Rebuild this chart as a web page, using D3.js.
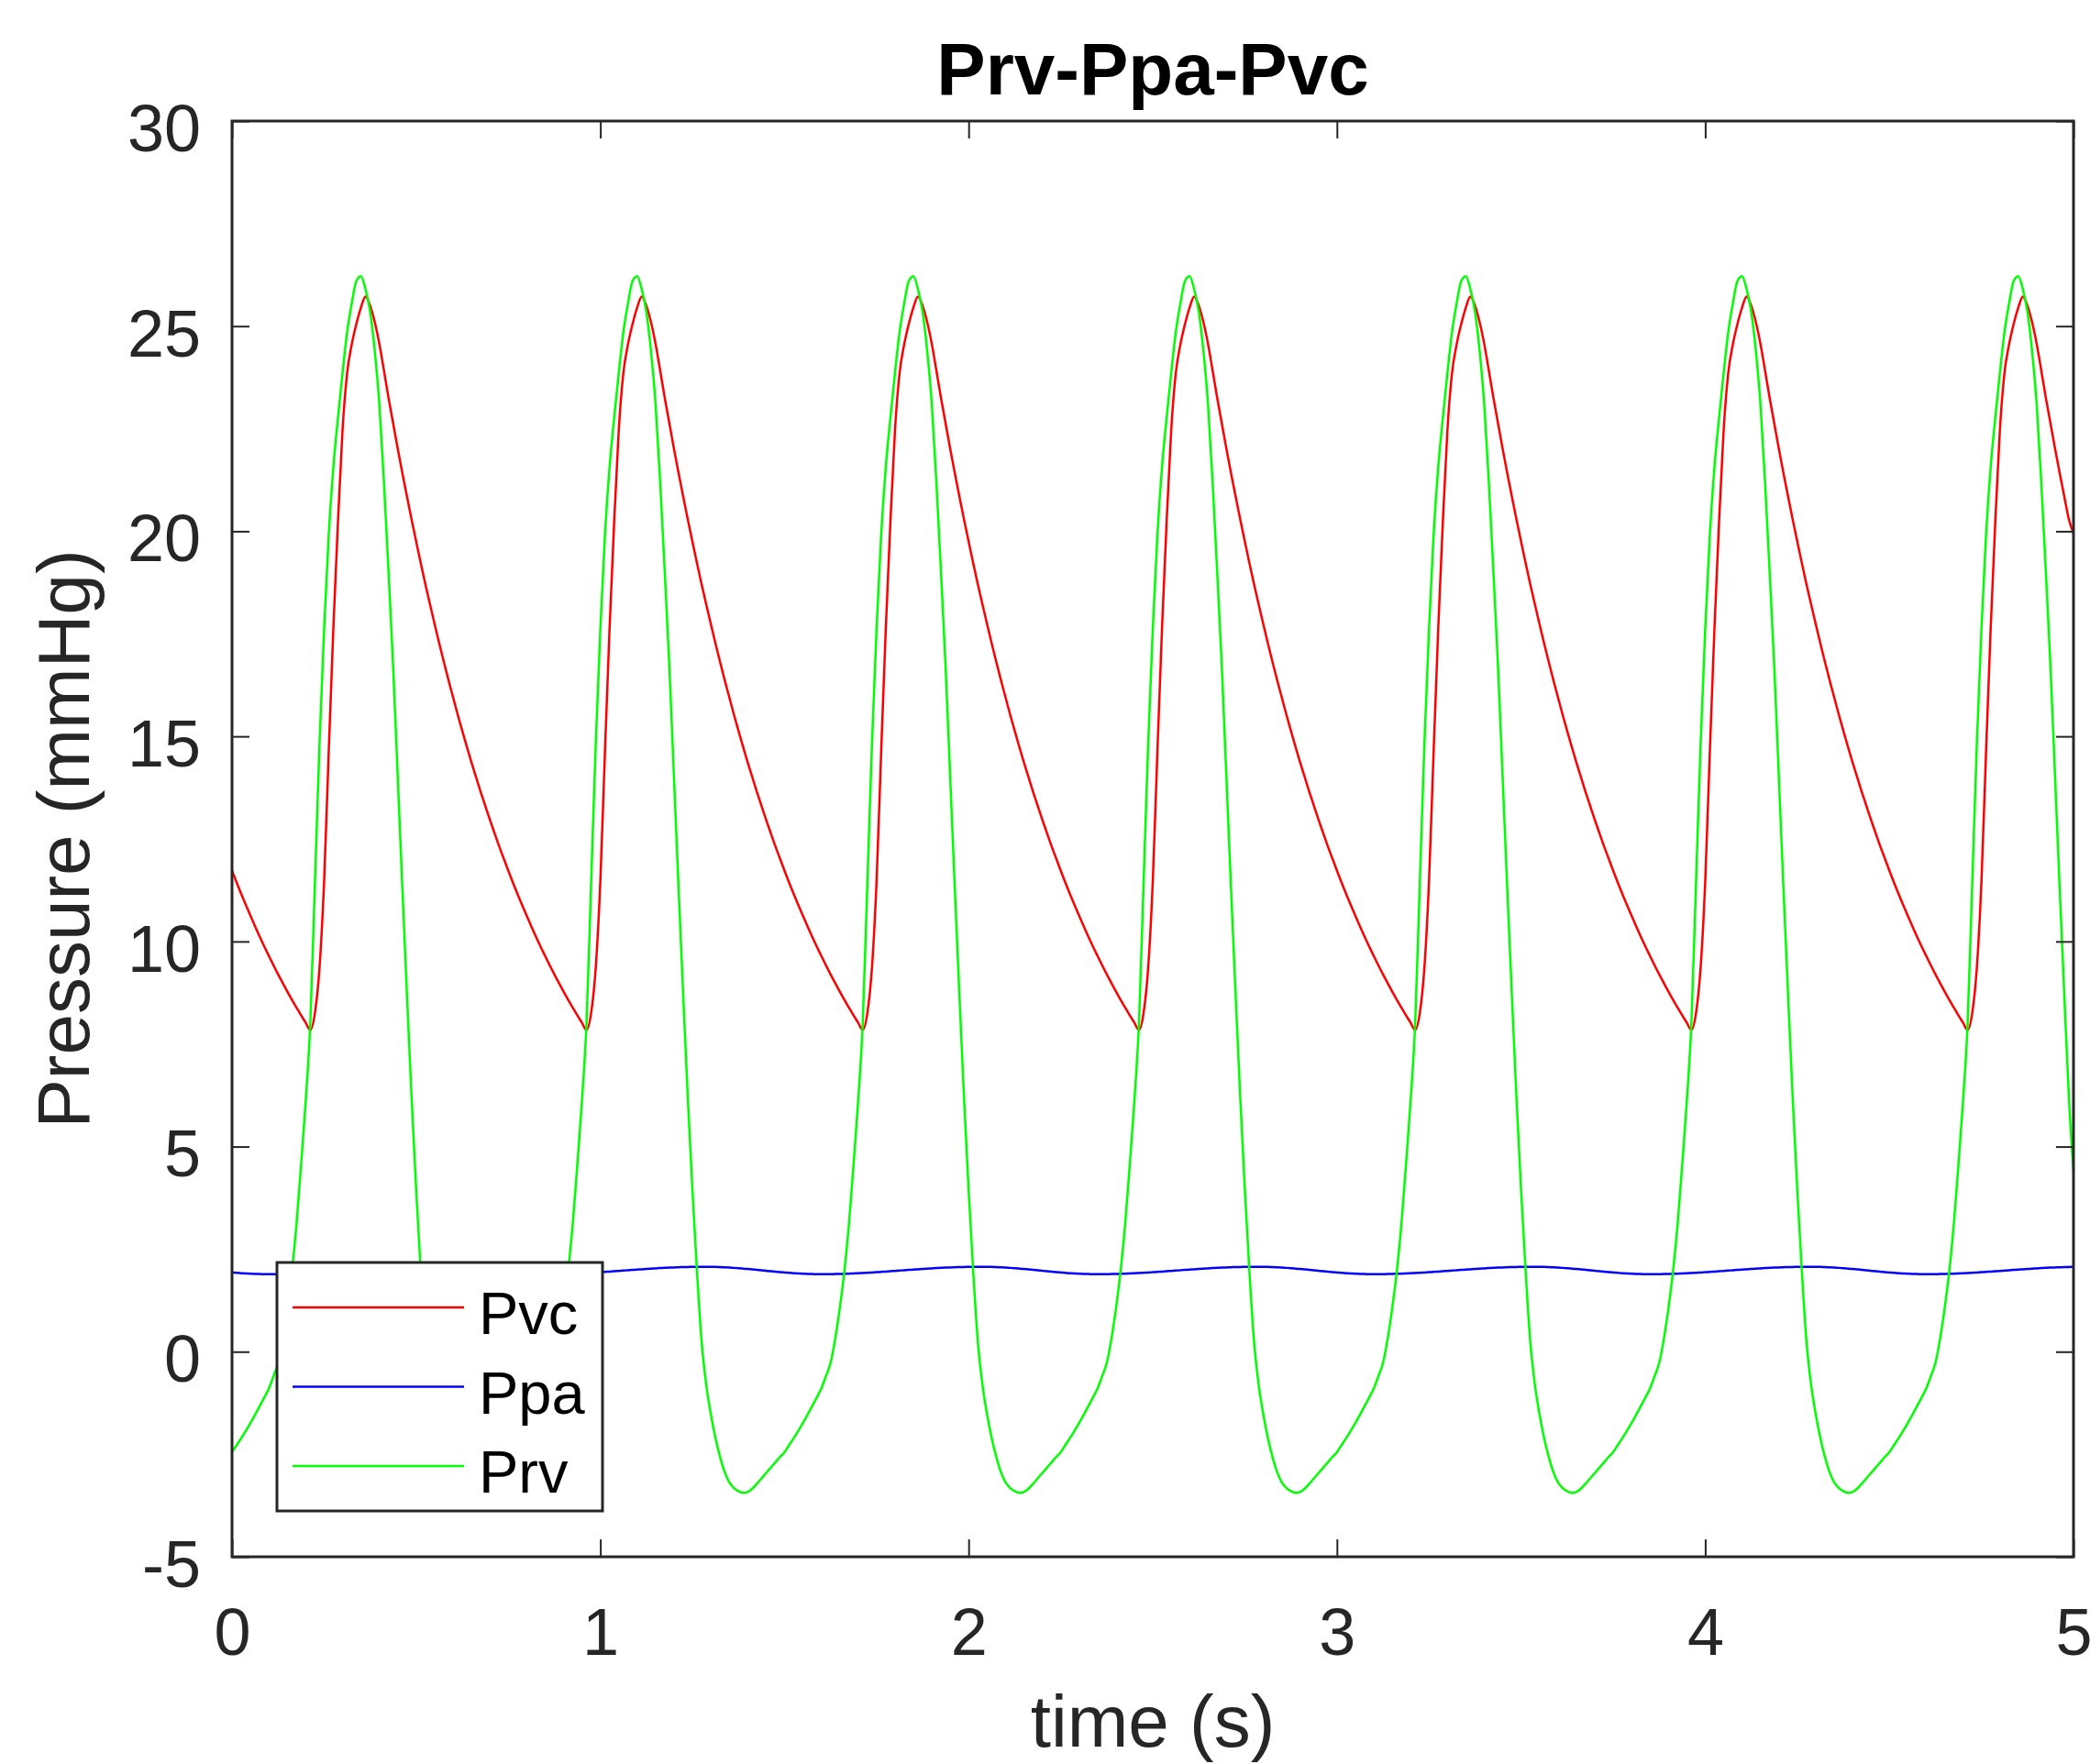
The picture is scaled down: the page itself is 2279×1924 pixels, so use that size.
<!DOCTYPE html>
<html lang="en">
<head>
    <meta charset="UTF-8">
    <title>Prv-Ppa-Pvc</title>
    <style>
        body {
            margin: 0;
            background: #ffffff;
        }
        text {
            font-family: "Liberation Sans", Arial, Helvetica, sans-serif;
        }
    </style>
</head>
<body>
    <!-- Load D3.js library from a CDN -->
    <script src="https://d3js.org/d3.v7.min.js"></script>

    <script type="text/javascript">
        // time between two samples (s), first sample at t = 0
        var sampleStep = 0.0125;

        // Pvc (mmHg), one line per heart beat of 0.75 s
        var pvc = [
            11.73,11.44,11.16,10.89,10.63,10.37,10.12,9.88,9.65,9.42,9.20,8.99,8.78,8.58,8.39,8.20,8.02,7.84,8.25,9.35,11.45,14.60,17.60,20.20,22.45,23.85,24.55,25.05,25.45,25.72,25.50,25.10,24.57,23.92,23.25,22.63,22.01,21.42,20.85,20.29,19.75,19.22,18.71,18.22,17.74,17.27,16.82,16.38,15.96,15.54,15.14,14.75,14.37,14.01,13.65,13.31,12.97,12.65,12.33,12.03,
            11.73,11.44,11.16,10.89,10.63,10.37,10.12,9.88,9.65,9.42,9.20,8.99,8.78,8.58,8.39,8.20,8.02,7.84,8.25,9.35,11.45,14.60,17.60,20.20,22.45,23.85,24.55,25.05,25.45,25.72,25.50,25.10,24.57,23.92,23.25,22.63,22.01,21.42,20.85,20.29,19.75,19.22,18.71,18.22,17.74,17.27,16.82,16.38,15.96,15.54,15.14,14.75,14.37,14.01,13.65,13.31,12.97,12.65,12.33,12.03,
            11.73,11.44,11.16,10.89,10.63,10.37,10.12,9.88,9.65,9.42,9.20,8.99,8.78,8.58,8.39,8.20,8.02,7.84,8.25,9.35,11.45,14.60,17.60,20.20,22.45,23.85,24.55,25.05,25.45,25.72,25.50,25.10,24.57,23.92,23.25,22.63,22.01,21.42,20.85,20.29,19.75,19.22,18.71,18.22,17.74,17.27,16.82,16.38,15.96,15.54,15.14,14.75,14.37,14.01,13.65,13.31,12.97,12.65,12.33,12.03,
            11.73,11.44,11.16,10.89,10.63,10.37,10.12,9.88,9.65,9.42,9.20,8.99,8.78,8.58,8.39,8.20,8.02,7.84,8.25,9.35,11.45,14.60,17.60,20.20,22.45,23.85,24.55,25.05,25.45,25.72,25.50,25.10,24.57,23.92,23.25,22.63,22.01,21.42,20.85,20.29,19.75,19.22,18.71,18.22,17.74,17.27,16.82,16.38,15.96,15.54,15.14,14.75,14.37,14.01,13.65,13.31,12.97,12.65,12.33,12.03,
            11.73,11.44,11.16,10.89,10.63,10.37,10.12,9.88,9.65,9.42,9.20,8.99,8.78,8.58,8.39,8.20,8.02,7.84,8.25,9.35,11.45,14.60,17.60,20.20,22.45,23.85,24.55,25.05,25.45,25.72,25.50,25.10,24.57,23.92,23.25,22.63,22.01,21.42,20.85,20.29,19.75,19.22,18.71,18.22,17.74,17.27,16.82,16.38,15.96,15.54,15.14,14.75,14.37,14.01,13.65,13.31,12.97,12.65,12.33,12.03,
            11.73,11.44,11.16,10.89,10.63,10.37,10.12,9.88,9.65,9.42,9.20,8.99,8.78,8.58,8.39,8.20,8.02,7.84,8.25,9.35,11.45,14.60,17.60,20.20,22.45,23.85,24.55,25.05,25.45,25.72,25.50,25.10,24.57,23.92,23.25,22.63,22.01,21.42,20.85,20.29,19.75,19.22,18.71,18.22,17.74,17.27,16.82,16.38,15.96,15.54,15.14,14.75,14.37,14.01,13.65,13.31,12.97,12.65,12.33,12.03,
            11.73,11.44,11.16,10.89,10.63,10.37,10.12,9.88,9.65,9.42,9.20,8.99,8.78,8.58,8.39,8.20,8.02,7.84,8.25,9.35,11.45,14.60,17.60,20.20,22.45,23.85,24.55,25.05,25.45,25.72,25.50,25.10,24.57,23.92,23.25,22.63,22.01,21.42,20.85,20.29,19.95
        ];

        // Ppa (mmHg)
        var ppa = [
            1.931,1.922,1.914,1.907,1.901,1.896,1.893,1.891,1.890,1.890,1.891,1.893,1.896,1.899,1.903,1.908,1.913,1.918,1.924,1.931,1.938,1.946,1.953,1.961,1.969,1.977,1.986,1.994,2.002,2.009,2.017,2.024,2.031,2.038,2.044,2.049,2.054,2.058,2.062,2.065,2.067,2.069,2.070,2.070,2.069,2.066,2.062,2.057,2.051,2.043,2.035,2.026,2.016,2.006,1.995,1.984,1.972,1.961,1.951,1.940,
            1.931,1.922,1.914,1.907,1.901,1.896,1.893,1.891,1.890,1.890,1.891,1.893,1.896,1.899,1.903,1.908,1.913,1.918,1.924,1.931,1.938,1.946,1.953,1.961,1.969,1.977,1.986,1.994,2.002,2.009,2.017,2.024,2.031,2.038,2.044,2.049,2.054,2.058,2.062,2.065,2.067,2.069,2.070,2.070,2.069,2.066,2.062,2.057,2.051,2.043,2.035,2.026,2.016,2.006,1.995,1.984,1.972,1.961,1.951,1.940,
            1.931,1.922,1.914,1.907,1.901,1.896,1.893,1.891,1.890,1.890,1.891,1.893,1.896,1.899,1.903,1.908,1.913,1.918,1.924,1.931,1.938,1.946,1.953,1.961,1.969,1.977,1.986,1.994,2.002,2.009,2.017,2.024,2.031,2.038,2.044,2.049,2.054,2.058,2.062,2.065,2.067,2.069,2.070,2.070,2.069,2.066,2.062,2.057,2.051,2.043,2.035,2.026,2.016,2.006,1.995,1.984,1.972,1.961,1.951,1.940,
            1.931,1.922,1.914,1.907,1.901,1.896,1.893,1.891,1.890,1.890,1.891,1.893,1.896,1.899,1.903,1.908,1.913,1.918,1.924,1.931,1.938,1.946,1.953,1.961,1.969,1.977,1.986,1.994,2.002,2.009,2.017,2.024,2.031,2.038,2.044,2.049,2.054,2.058,2.062,2.065,2.067,2.069,2.070,2.070,2.069,2.066,2.062,2.057,2.051,2.043,2.035,2.026,2.016,2.006,1.995,1.984,1.972,1.961,1.951,1.940,
            1.931,1.922,1.914,1.907,1.901,1.896,1.893,1.891,1.890,1.890,1.891,1.893,1.896,1.899,1.903,1.908,1.913,1.918,1.924,1.931,1.938,1.946,1.953,1.961,1.969,1.977,1.986,1.994,2.002,2.009,2.017,2.024,2.031,2.038,2.044,2.049,2.054,2.058,2.062,2.065,2.067,2.069,2.070,2.070,2.069,2.066,2.062,2.057,2.051,2.043,2.035,2.026,2.016,2.006,1.995,1.984,1.972,1.961,1.951,1.940,
            1.931,1.922,1.914,1.907,1.901,1.896,1.893,1.891,1.890,1.890,1.891,1.893,1.896,1.899,1.903,1.908,1.913,1.918,1.924,1.931,1.938,1.946,1.953,1.961,1.969,1.977,1.986,1.994,2.002,2.009,2.017,2.024,2.031,2.038,2.044,2.049,2.054,2.058,2.062,2.065,2.067,2.069,2.070,2.070,2.069,2.066,2.062,2.057,2.051,2.043,2.035,2.026,2.016,2.006,1.995,1.984,1.972,1.961,1.951,1.940,
            1.931,1.922,1.914,1.907,1.901,1.896,1.893,1.891,1.890,1.890,1.891,1.893,1.896,1.899,1.903,1.908,1.913,1.918,1.924,1.931,1.938,1.946,1.953,1.961,1.969,1.977,1.986,1.994,2.002,2.009,2.017,2.024,2.031,2.038,2.044,2.049,2.054,2.058,2.062,2.065,2.067
        ];

        // Prv (mmHg)
        var prv = [
            -2.45,-2.28,-2.11,-1.93,-1.74,-1.54,-1.33,-1.12,-0.90,-0.60,-0.28,0.30,1.05,1.95,3.10,4.55,6.10,8.00,11.40,14.80,17.60,19.90,21.55,22.75,23.85,24.85,25.55,26.10,26.22,25.90,25.35,24.40,23.10,21.20,19.00,16.70,14.00,11.30,8.70,6.20,3.95,1.95,0.25,-0.80,-1.52,-2.10,-2.56,-2.93,-3.18,-3.32,-3.40,-3.44,-3.42,-3.34,-3.22,-3.09,-2.96,-2.83,-2.70,-2.57,
            -2.45,-2.28,-2.11,-1.93,-1.74,-1.54,-1.33,-1.12,-0.90,-0.60,-0.28,0.30,1.05,1.95,3.10,4.55,6.10,8.00,11.40,14.80,17.60,19.90,21.55,22.75,23.85,24.85,25.55,26.10,26.22,25.90,25.35,24.40,23.10,21.20,19.00,16.70,14.00,11.30,8.70,6.20,3.95,1.95,0.25,-0.80,-1.52,-2.10,-2.56,-2.93,-3.18,-3.32,-3.40,-3.44,-3.42,-3.34,-3.22,-3.09,-2.96,-2.83,-2.70,-2.57,
            -2.45,-2.28,-2.11,-1.93,-1.74,-1.54,-1.33,-1.12,-0.90,-0.60,-0.28,0.30,1.05,1.95,3.10,4.55,6.10,8.00,11.40,14.80,17.60,19.90,21.55,22.75,23.85,24.85,25.55,26.10,26.22,25.90,25.35,24.40,23.10,21.20,19.00,16.70,14.00,11.30,8.70,6.20,3.95,1.95,0.25,-0.80,-1.52,-2.10,-2.56,-2.93,-3.18,-3.32,-3.40,-3.44,-3.42,-3.34,-3.22,-3.09,-2.96,-2.83,-2.70,-2.57,
            -2.45,-2.28,-2.11,-1.93,-1.74,-1.54,-1.33,-1.12,-0.90,-0.60,-0.28,0.30,1.05,1.95,3.10,4.55,6.10,8.00,11.40,14.80,17.60,19.90,21.55,22.75,23.85,24.85,25.55,26.10,26.22,25.90,25.35,24.40,23.10,21.20,19.00,16.70,14.00,11.30,8.70,6.20,3.95,1.95,0.25,-0.80,-1.52,-2.10,-2.56,-2.93,-3.18,-3.32,-3.40,-3.44,-3.42,-3.34,-3.22,-3.09,-2.96,-2.83,-2.70,-2.57,
            -2.45,-2.28,-2.11,-1.93,-1.74,-1.54,-1.33,-1.12,-0.90,-0.60,-0.28,0.30,1.05,1.95,3.10,4.55,6.10,8.00,11.40,14.80,17.60,19.90,21.55,22.75,23.85,24.85,25.55,26.10,26.22,25.90,25.35,24.40,23.10,21.20,19.00,16.70,14.00,11.30,8.70,6.20,3.95,1.95,0.25,-0.80,-1.52,-2.10,-2.56,-2.93,-3.18,-3.32,-3.40,-3.44,-3.42,-3.34,-3.22,-3.09,-2.96,-2.83,-2.70,-2.57,
            -2.45,-2.28,-2.11,-1.93,-1.74,-1.54,-1.33,-1.12,-0.90,-0.60,-0.28,0.30,1.05,1.95,3.10,4.55,6.10,8.00,11.40,14.80,17.60,19.90,21.55,22.75,23.85,24.85,25.55,26.10,26.22,25.90,25.35,24.40,23.10,21.20,19.00,16.70,14.00,11.30,8.70,6.20,3.95,1.95,0.25,-0.80,-1.52,-2.10,-2.56,-2.93,-3.18,-3.32,-3.40,-3.44,-3.42,-3.34,-3.22,-3.09,-2.96,-2.83,-2.70,-2.57,
            -2.45,-2.28,-2.11,-1.93,-1.74,-1.54,-1.33,-1.12,-0.90,-0.60,-0.28,0.30,1.05,1.95,3.10,4.55,6.10,8.00,11.40,14.80,17.60,19.90,21.55,22.75,23.85,24.85,25.55,26.10,26.22,25.90,25.35,24.40,23.10,21.20,19.00,16.70,14.00,11.30,8.70,6.20,4.40
        ];

        // axis ticks and labels
        var xTicks = [0, 1, 2, 3, 4, 5];
        var yTicks = [-5, 0, 5, 10, 15, 20, 25, 30];
        var seriesNames = ["Pvc", "Ppa", "Prv"];
        var seriesColors = ["#ff0000", "#0000ff", "#00ff00"];
        var series = [pvc, ppa, prv];

        var width = 2279;
        var height = 1924;
        var plotLeft = 253, plotRight = 2261, plotTop = 132, plotBottom = 1698;
        var axisColor = "#262626";
        var tickLen = 19;

        var svg = d3.select("body")
                    .append("svg")
                    .attr("width", width)
                    .attr("height", height);

        svg.append("rect")
           .attr("width", width)
           .attr("height", height)
           .attr("fill", "#ffffff");

        var x = d3.scaleLinear().domain([0, 5]).range([plotLeft, plotRight]);
        var y = d3.scaleLinear().domain([-5, 30]).range([plotBottom, plotTop]);

        // sample times
        var time = pvc.map(function(d, i) { return i * sampleStep; });

        var line = d3.line()
                     .x(function(d, i) { return x(time[i]); })
                     .y(function(d) { return y(d); })
                     .curve(d3.curveMonotoneX);

        // the three traces, Pvc first so Prv lies on top
        svg.selectAll("path.trace")
           .data(series)
           .enter()
           .append("path")
           .attr("class", "trace")
           .attr("fill", "none")
           .attr("stroke", function(d, i) { return seriesColors[i]; })
           .attr("stroke-width", 2.5)
           .attr("stroke-linejoin", "round")
           .attr("d", line);

        // axes: ticks point inwards, labels only on left and bottom
        function styleAxis(g, size) {
            g.attr("font-family", "'Liberation Sans', Arial, Helvetica, sans-serif")
             .attr("font-size", size)
             .attr("color", axisColor);
            g.select(".domain").remove();
            g.selectAll(".tick line").attr("stroke-width", 2);
        }

        svg.append("g")
           .attr("transform", "translate(0," + plotBottom + ")")
           .call(d3.axisBottom(x).tickValues(xTicks).tickSizeInner(-tickLen).tickSizeOuter(0)
                   .tickPadding(56).tickFormat(function(d) { return String(d); }))
           .call(styleAxis, 72);

        svg.append("g")
           .attr("transform", "translate(0," + plotTop + ")")
           .call(d3.axisTop(x).tickValues(xTicks).tickSizeInner(-tickLen).tickSizeOuter(0).tickFormat(""))
           .call(styleAxis, 72);

        var yAxis = svg.append("g")
           .attr("transform", "translate(" + plotLeft + ",0)")
           .call(d3.axisLeft(y).tickValues(yTicks).tickSizeInner(-tickLen).tickSizeOuter(0)
                   .tickPadding(34).tickFormat(function(d) { return String(d); }))
           .call(styleAxis, 72);
        yAxis.selectAll(".tick text").attr("dy", "0.45em");

        svg.append("g")
           .attr("transform", "translate(" + plotRight + ",0)")
           .call(d3.axisRight(y).tickValues(yTicks).tickSizeInner(-tickLen).tickSizeOuter(0).tickFormat(""))
           .call(styleAxis, 72);

        // box around the plot
        svg.append("rect")
           .attr("x", plotLeft)
           .attr("y", plotTop)
           .attr("width", plotRight - plotLeft)
           .attr("height", plotBottom - plotTop)
           .attr("fill", "none")
           .attr("stroke", axisColor)
           .attr("stroke-width", 3);

        // title and axis labels
        svg.append("text")
           .attr("x", (plotLeft + plotRight) / 2)
           .attr("y", 103)
           .attr("text-anchor", "middle")
           .attr("font-size", 80)
           .attr("font-weight", "bold")
           .attr("fill", "#000000")
           .text("Prv-Ppa-Pvc");

        svg.append("text")
           .attr("x", (plotLeft + plotRight) / 2)
           .attr("y", 1905)
           .attr("text-anchor", "middle")
           .attr("font-size", 80)
           .attr("fill", axisColor)
           .text("time (s)");

        svg.append("text")
           .attr("transform", "translate(97," + (plotTop + plotBottom) / 2 + ") rotate(-90)")
           .attr("text-anchor", "middle")
           .attr("font-size", 80)
           .attr("fill", axisColor)
           .text("Pressure (mmHg)");

        // legend in the lower left corner
        var legend = svg.append("g").attr("transform", "translate(302,1377)");

        legend.append("rect")
              .attr("width", 355)
              .attr("height", 271)
              .attr("fill", "#ffffff")
              .attr("stroke", axisColor)
              .attr("stroke-width", 3);

        var items = legend.selectAll("g.item")
                          .data(seriesNames)
                          .enter()
                          .append("g")
                          .attr("class", "item")
                          .attr("transform", function(d, i) { return "translate(0," + (49 + i * 86.5) + ")"; });

        items.append("line")
             .attr("x1", 17)
             .attr("x2", 204)
             .attr("stroke", function(d, i) { return seriesColors[i]; })
             .attr("stroke-width", 2.5);

        items.append("text")
             .attr("x", 220)
             .attr("y", 29)
             .attr("font-size", 65)
             .attr("fill", "#000000")
             .text(function(d) { return d; });
    </script>
</body>
</html>
